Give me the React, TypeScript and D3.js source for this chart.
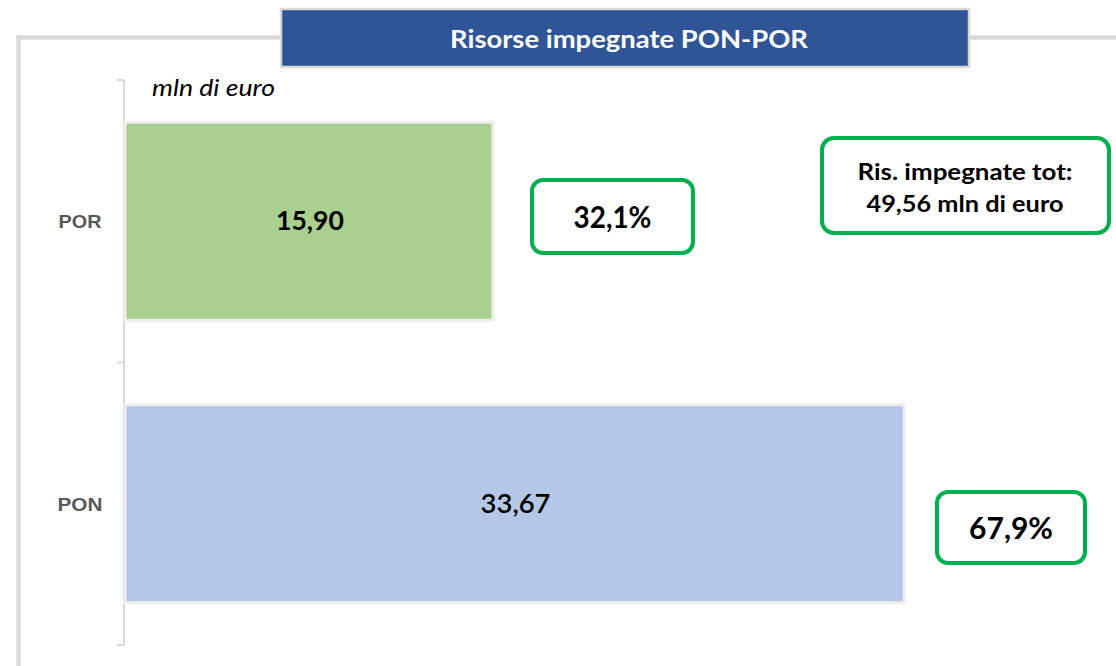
import React from "react";
import * as d3 from "d3";

const categories = ["POR", "PON"];
const values = [15.9, 33.67];
const valueLabels = ["15,90", "33,67"];
const shareLabels = ["32,1%", "67,9%"];
const barColors = ["#a9d08e", "#b4c7e7"];
const titleText = "Risorse impegnate PON-POR";
const unitText = "mln di euro";
const totalLines = ["Ris. impegnate tot:", "49,56 mln di euro"];

const W = 1116;
const H = 666;
const CAL = "Lato, 'Open Sans', sans-serif";

export default function App() {
  const x = d3.scaleLinear().domain([0, 1]).range([125, 125 + 23.14]);
  const yAxis = d3.scaleBand<string>().domain(categories).range([80, 645]);
  const tickYs = [80, ...categories.map((c) => (yAxis(c) as number) + yAxis.bandwidth())];

  const shareBoxes = [
    { x: 532, y: 180, w: 161, h: 73, tl: 78 },
    { x: 937, y: 492, w: 148, h: 71, tl: 84 },
  ];
  const totalWidths = [215, 197];
  const valueWidths = [68, 70];
  const catWidths = [43, 45];

  return (
    <svg
      width={W}
      height={H}
      style={{ position: "absolute", left: 0, top: 0, background: "#fff" }}
    >
      {/* outer frame */}
      <rect x={18.5} y={37.5} width={1200} height={700} fill="none" stroke="#d9d9d9" strokeWidth={4.5} />

      {/* title box */}
      <rect x={281} y={9} width={688} height={58} fill="#2f5597" stroke="#d9d9d9" strokeWidth={2.5} />
      <text
        x={629}
        y={48}
        textAnchor="middle"
        fill="#fff"
        fontFamily={CAL}
        fontWeight={700}
        fontSize={25}
        textLength={358}
        lengthAdjust="spacingAndGlyphs"
      >
        {titleText}
      </text>

      {/* unit */}
      <text
        x={152}
        y={96}
        fontFamily={CAL}
        fontStyle="italic"
        fontSize={23}
        fill="#000"
        textLength={123}
        lengthAdjust="spacingAndGlyphs"
      >
        {unitText}
      </text>

      {/* axis */}
      <line x1={124} x2={124} y1={80} y2={645} stroke="#d9d9d9" strokeWidth={2} />
      {tickYs.map((t, i) => (
        <line key={i} x1={117} x2={124} y1={t} y2={t} stroke="#d9d9d9" strokeWidth={2} />
      ))}
      {categories.map((c, i) => (
        <text
          key={c}
          x={80}
          y={(yAxis(c) as number) + yAxis.bandwidth() / 2 + 7}
          textAnchor="middle"
          fontFamily="'Liberation Sans', Arial, sans-serif"
          fontWeight={700}
          fontSize={19}
          fill="#595959"
          textLength={catWidths[i]}
          lengthAdjust="spacingAndGlyphs"
        >
          {c}
        </text>
      ))}

      {/* bars */}
      {categories.map((c, i) => {
        const by = (yAxis(c) as number) + yAxis.bandwidth() / 2 - 99;
        return (
          <g key={c}>
            <rect
              x={x(0)}
              y={by}
              width={x(values[i]) - x(0)}
              height={198}
              fill={barColors[i]}
              stroke="#eeeeee"
              strokeWidth={3}
            />
            <text
              x={(x(0) + x(values[i])) / 2 + 1}
              y={by + 99 + 9}
              textAnchor="middle"
              fontFamily={CAL}
              fontWeight={i === 0 ? 700 : 600}
              fontSize={27}
              fill="#000"
              textLength={valueWidths[i]}
              lengthAdjust="spacingAndGlyphs"
            >
              {valueLabels[i]}
            </text>
          </g>
        );
      })}

      {/* share boxes */}
      {shareBoxes.map((b, i) => (
        <g key={i}>
          <rect x={b.x} y={b.y} width={b.w} height={b.h} rx={11} fill="#fff" stroke="#00b050" strokeWidth={4} />
          <text
            x={b.x + b.w / 2}
            y={b.y + b.h / 2 + 11}
            textAnchor="middle"
            fontFamily={CAL}
            fontWeight={700}
            fontSize={31}
            fill="#000"
            textLength={b.tl}
            lengthAdjust="spacingAndGlyphs"
          >
            {shareLabels[i]}
          </text>
        </g>
      ))}

      {/* total box */}
      <rect x={822} y={138} width={287} height={95} rx={12} fill="#fff" stroke="#00b050" strokeWidth={4} />
      {totalLines.map((t, i) => (
        <text
          key={i}
          x={965}
          y={180 + i * 32}
          textAnchor="middle"
          fontFamily={CAL}
          fontWeight={700}
          fontSize={23}
          fill="#000"
          textLength={totalWidths[i]}
          lengthAdjust="spacingAndGlyphs"
        >
          {t}
        </text>
      ))}
    </svg>
  );
}
